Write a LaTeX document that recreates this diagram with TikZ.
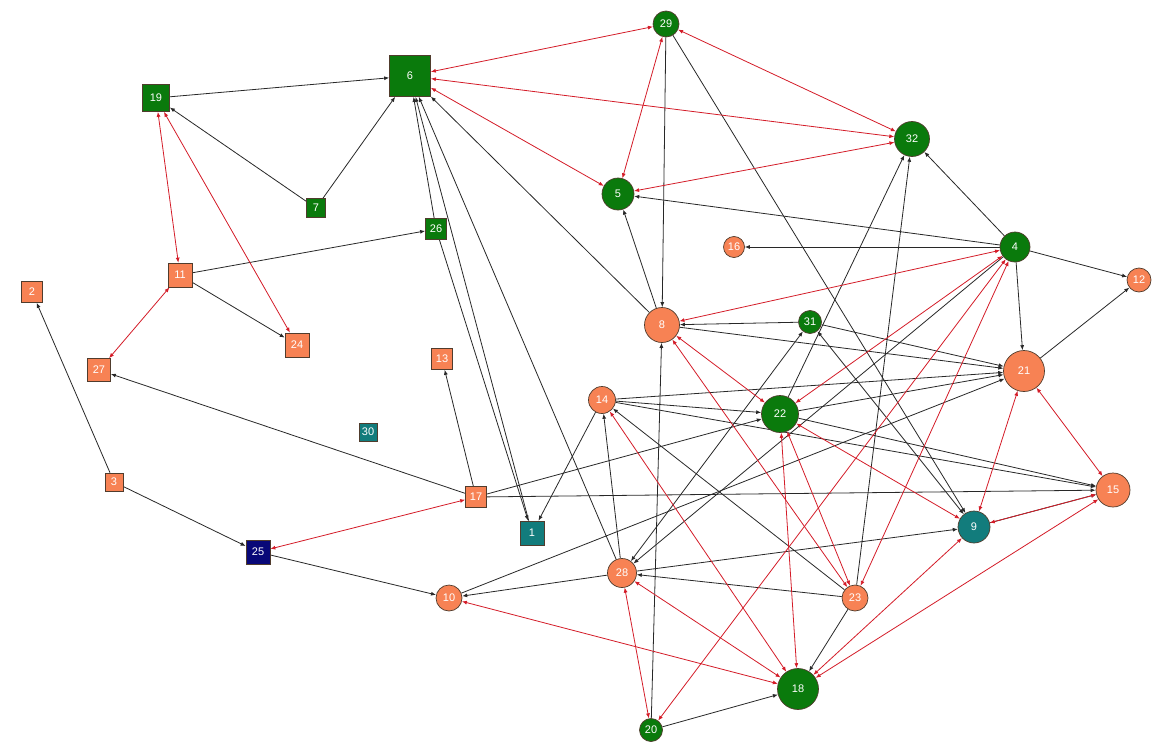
\documentclass[tikz,border=0pt]{standalone}
\usepackage{fontspec}
\setmainfont{Liberation Sans}
\usetikzlibrary{arrows.meta}
\definecolor{ngreen}{RGB}{10,122,12}
\definecolor{norange}{RGB}{247,130,84}
\definecolor{nteal}{RGB}{18,124,124}
\definecolor{nnavy}{RGB}{8,8,120}
\definecolor{nborder}{RGB}{80,60,45}
\definecolor{ered}{RGB}{212,28,40}
\definecolor{eblack}{RGB}{40,40,40}
\pgfdeclarelayer{bg}
\pgfsetlayers{bg,main}
\begin{document}
\begin{tikzpicture}[x=1pt,y=-1pt,
  base/.style={draw=nborder,line width=0.7pt,text=white,font=\fontsize{11}{11}\selectfont,inner sep=0pt},
  sq/.style={base,rectangle,minimum size=#1},
  ci/.style={base,circle,minimum size=#1},
  bl/.style={draw=eblack,line width=0.8pt,-{Latex[length=5pt,width=4pt]}},
  bb/.style={draw=eblack,line width=0.8pt,{Latex[length=5pt,width=4pt]}-{Latex[length=5pt,width=4pt]}},
  rd/.style={draw=ered,line width=0.8pt,{Latex[length=5pt,width=4pt]}-{Latex[length=5pt,width=4pt]}}]
\begin{pgfonlayer}{bg}
\fill[white] (0,0) rectangle (1170,752);
\end{pgfonlayer}
\useasboundingbox (0,0) rectangle (1170,752);
% nodes
\node[sq=24,fill=nteal]   (n1)  at (532,533) {1};
\node[sq=21,fill=norange] (n2)  at (32,292)  {2};
\node[sq=18,fill=norange] (n3)  at (114,482) {3};
\node[ci=30,fill=ngreen]  (n4)  at (1015,247) {4};
\node[ci=32,fill=ngreen]  (n5)  at (618,194) {5};
\node[sq=41,fill=ngreen]  (n6)  at (410,76)  {6};
\node[sq=19,fill=ngreen]  (n7)  at (316,208) {7};
\node[ci=35,fill=norange] (n8)  at (662,325) {8};
\node[ci=32,fill=nteal]   (n9)  at (974,527) {9};
\node[ci=26,fill=norange] (n10) at (449,598) {10};
\node[sq=24,fill=norange] (n11) at (180,275) {11};
\node[ci=24,fill=norange] (n12) at (1139,280) {12};
\node[sq=21,fill=norange] (n13) at (442,359) {13};
\node[ci=27,fill=norange] (n14) at (602,400) {14};
\node[ci=34,fill=norange] (n15) at (1113,490) {15};
\node[ci=21,fill=norange] (n16) at (734,247) {16};
\node[sq=21,fill=norange] (n17) at (476,497) {17};
\node[ci=41,fill=ngreen]  (n18) at (798,689) {18};
\node[sq=27,fill=ngreen]  (n19) at (156,98)  {19};
\node[ci=23,fill=ngreen]  (n20) at (651,730) {20};
\node[ci=41,fill=norange] (n21) at (1024,371) {21};
\node[ci=37,fill=ngreen]  (n22) at (780,414) {22};
\node[ci=26,fill=norange] (n23) at (855,598) {23};
\node[sq=24,fill=norange] (n24) at (297,345) {24};
\node[sq=24,fill=nnavy]   (n25) at (258,552) {25};
\node[sq=21,fill=ngreen]  (n26) at (436,229) {26};
\node[sq=23,fill=norange] (n27) at (99,370)  {27};
\node[ci=29,fill=norange] (n28) at (622,573) {28};
\node[ci=26,fill=ngreen]  (n29) at (666,24)  {29};
\node[sq=18,fill=nteal]   (n30) at (368,432) {30};
\node[ci=23,fill=ngreen]  (n31) at (810,322) {31};
\node[ci=35,fill=ngreen]  (n32) at (912,139) {32};
\begin{pgfonlayer}{bg}
% black directed edges
\foreach \a/\b in {19/6,7/19,7/6,11/26,11/24,3/2,3/25,17/27,17/13,25/10,
  26/6,26/1,1/6,28/6,8/6,8/5,29/8,29/9,31/8,31/21,8/21,4/32,4/5,4/16,4/12,
  4/21,21/12,4/28,22/32,23/32,14/21,14/22,14/15,14/1,28/14,23/14,23/28,
  28/10,10/21,17/22,17/15,22/21,22/15,9/15,28/9,20/8,20/18,23/18}
  \draw[bl] (n\a) -- (n\b);
% black edges with both tips
\foreach \a/\b in {31/9,28/31}
  \draw[bb] (n\a) -- (n\b);
% red reciprocal edges
\foreach \a/\b in {6/29,6/32,6/5,29/5,29/32,32/5,19/11,19/24,11/27,17/25,
  4/8,4/22,4/23,4/20,8/22,8/23,22/18,22/23,22/9,14/18,28/18,28/20,10/18,
  21/9,21/15,15/9,9/18,15/18}
  \draw[rd] (n\a) -- (n\b);
\end{pgfonlayer}
\end{tikzpicture}
\end{document}
